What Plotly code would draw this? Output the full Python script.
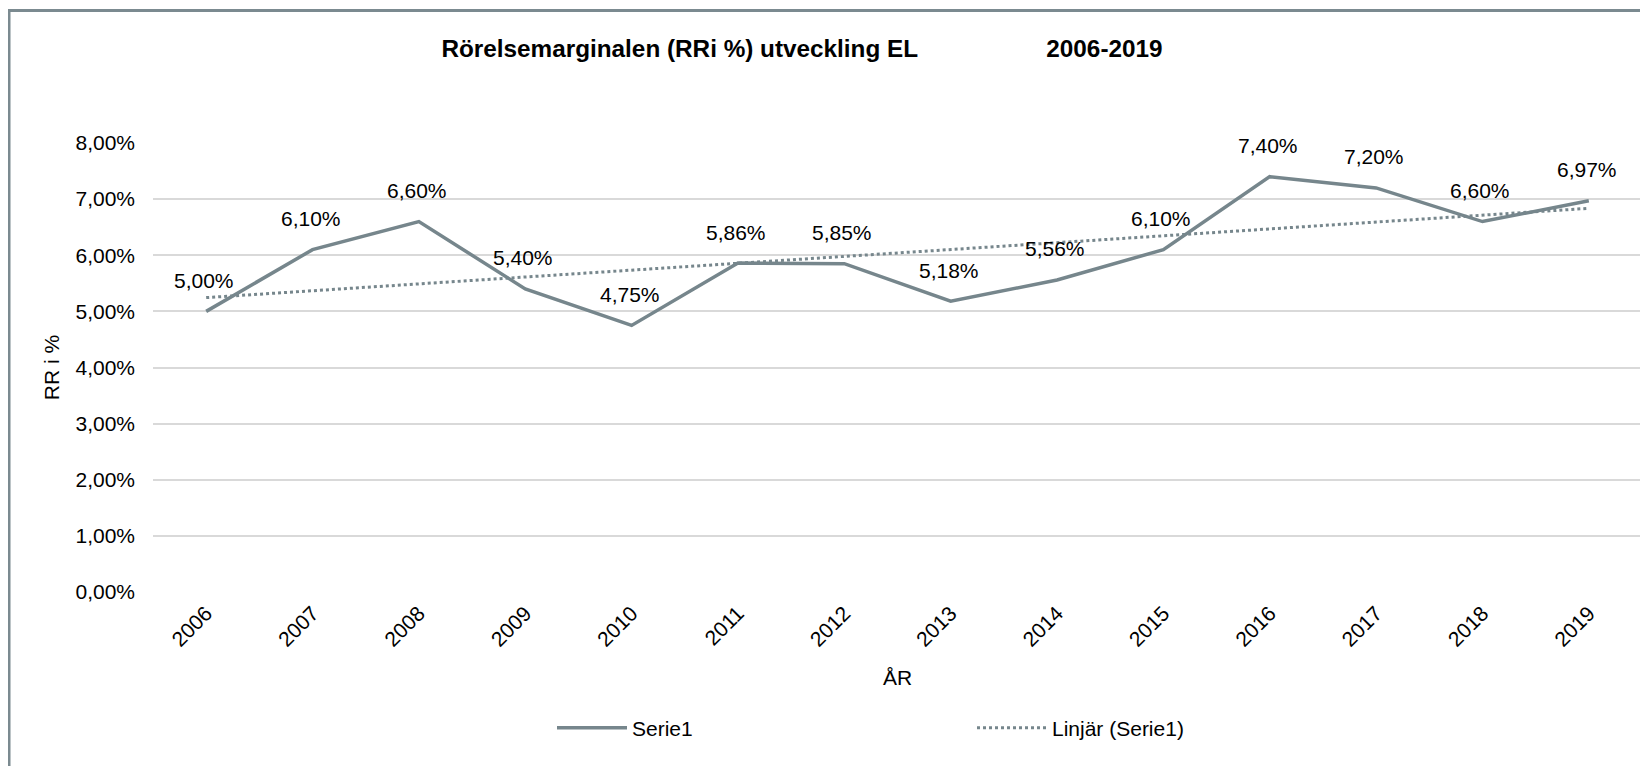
import numpy as np
import plotly.graph_objects as go

years = ["2006", "2007", "2008", "2009", "2010", "2011", "2012",
         "2013", "2014", "2015", "2016", "2017", "2018", "2019"]
rr_values = [0.0500, 0.0610, 0.0660, 0.0540, 0.0475, 0.0586, 0.0585,
             0.0518, 0.0556, 0.0610, 0.0740, 0.0720, 0.0660, 0.0697]
y_ticks = [0.00, 0.01, 0.02, 0.03, 0.04, 0.05, 0.06, 0.07, 0.08]

title_text = "Rörelsemarginalen (RRi %) utveckling EL" + "\u00a0" * 19 + "2006-2019"
series_name = "Serie1"
trend_name = "Linjär (Serie1)"
y_title = "RR i %"
x_title = "ÅR"

LINE_COLOR = "#76868c"
BORDER_COLOR = "#7b8a90"
FONT = "Liberation Sans, Arial, sans-serif"

# Linear trendline (least squares) like Excel's "Linjär"
idx = np.arange(len(rr_values))
slope, intercept = np.polyfit(idx, rr_values, 1)
trend = (slope * idx + intercept).tolist()

# page is rendered with an 8px body margin -> convert page px to figure px
OFF = 8
W, H = 1648 - OFF, 774 - 2 * OFF
PL, PR, PT, PB = 153, 1642, 143, 592      # plot area in page pixels
ML = PL - OFF
MR = W - (PR - OFF)
MT = PT - OFF
MB = H - (PB - OFF)
pw = PR - PL
ph = PB - PT


def px_x(p):   # page px -> paper x
    return (p - PL) / pw


def px_y(p):   # page px -> paper y
    return (PB - p) / ph


fig = go.Figure()
fig.add_trace(go.Scatter(
    x=years, y=rr_values, mode="lines", name=series_name,
    line=dict(color=LINE_COLOR, width=3.5),
))
fig.add_trace(go.Scatter(
    x=years, y=trend, mode="lines", name=trend_name,
    line=dict(color=LINE_COLOR, width=3, dash="dot"),
))

annotations = []
for i, v in enumerate(rr_values):
    annotations.append(dict(
        x=i, y=v, xref="x", yref="y",
        text=f"{v*100:.2f}".replace(".", ",") + "%",
        showarrow=False, yshift=31, xshift=-2,
        font=dict(family=FONT, size=21, color="#000000"),
    ))

fig.update_layout(
    width=W, height=H,
    margin=dict(l=ML, r=MR, t=MT, b=MB),
    paper_bgcolor="white", plot_bgcolor="white",
    separators=", ",
    font=dict(family=FONT, size=21, color="#000000"),
    title=dict(
        text=f"<b>{title_text}</b>",
        x=px_x(802), xref="paper", xanchor="center",
        y=1 - (48 - OFF) / H, yref="container", yanchor="middle",
        font=dict(family=FONT, size=24.3, color="#000000"),
    ),
    xaxis=dict(
        type="category", range=[-0.5, len(years) - 0.5],
        tickangle=-45, showgrid=False, showline=False, zeroline=False,
        ticks="", ticklabelstandoff=4,
        tickfont=dict(family=FONT, size=21, color="#000000"),
        title=dict(text=x_title, standoff=20,
                   font=dict(family=FONT, size=21, color="#000000")),
    ),
    yaxis=dict(
        range=[0, 0.08], tickvals=y_ticks, tickformat=".2%",
        showgrid=True, gridcolor="#d9d9d9", gridwidth=1.5,
        showline=False, zeroline=False, ticks="", ticklabelstandoff=17,
        tickfont=dict(family=FONT, size=21, color="#000000"),
        title=dict(text=y_title, standoff=10,
                   font=dict(family=FONT, size=21, color="#000000")),
    ),
    showlegend=True,
    legend=dict(
        orientation="h", x=px_x(552), xanchor="left",
        y=px_y(728), yanchor="middle",
        entrywidth=335, itemwidth=70,
        font=dict(family=FONT, size=21, color="#000000"),
        bgcolor="rgba(0,0,0,0)",
    ),
    annotations=annotations,
    shapes=[
        dict(type="line", xref="paper", yref="paper",
             x0=px_x(7.5), x1=px_x(1660), y0=px_y(10.5), y1=px_y(10.5),
             line=dict(color=BORDER_COLOR, width=3), layer="below"),
        dict(type="line", xref="paper", yref="paper",
             x0=px_x(9), x1=px_x(9), y0=px_y(9), y1=px_y(800),
             line=dict(color=BORDER_COLOR, width=3), layer="below"),
    ],
)

fig.write_html("out.html", config={"displayModeBar": False})
